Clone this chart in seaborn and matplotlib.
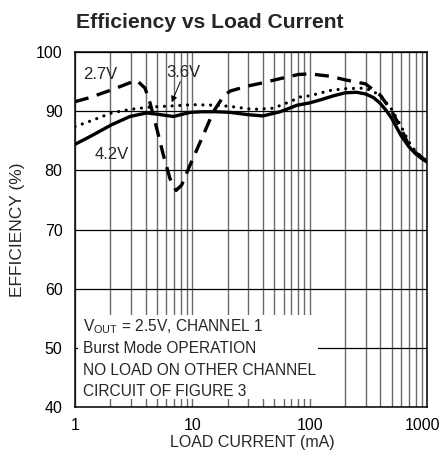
import matplotlib
matplotlib.use("Agg")
import matplotlib.pyplot as plt
import matplotlib.transforms as mtransforms
import seaborn as sns
from matplotlib.patches import Rectangle
from matplotlib.ticker import FixedLocator, NullFormatter

# values (load current in mA, efficiency in %)
x_42 = [1, 1.34, 2.05, 2.94, 4.08, 4.97, 6.9, 9.6, 12, 16, 21, 30, 40, 56, 78,
        100, 123, 160, 200, 250, 300, 350, 400, 450, 500, 600, 700, 800, 900, 1000]
y_42 = [84.4, 85.7, 87.7, 89.1, 89.7, 89.5, 89.1, 89.8, 89.9, 89.9, 89.8, 89.4, 89.2, 89.9, 91.0,
        91.4, 91.9, 92.6, 93.1, 93.2, 92.9, 92.3, 91.3, 90.1, 88.8, 85.9, 84.0, 82.8, 82.0, 81.4]

x_27 = [1, 1.34, 2.05, 2.85, 3.36, 3.95, 4.36, 4.97, 5.66, 6.45, 7.27, 8.1, 9.57, 11.8, 15.1,
        18.4, 21, 29, 40, 56, 80, 100, 150, 200, 300, 400, 500, 600, 700, 800, 1000]
y_27 = [91.6, 92.3, 93.6, 94.7, 95.2, 93.9, 91.4, 87.1, 82.6, 78.6, 76.6, 77.5, 80.9, 85.0, 89.9,
        92.5, 93.4, 94.2, 94.8, 95.5, 96.2, 96.3, 95.9, 95.3, 94.6, 92.7, 90.0, 87.1, 84.2, 83.0, 81.5]

x_36 = [1, 1.34, 2.05, 2.94, 4.4, 6.9, 10, 16, 21, 33, 49, 68, 83, 100,
        150, 200, 300, 400, 500, 600, 700, 800, 1000]
y_36 = [87.4, 88.3, 89.7, 90.3, 90.7, 90.9, 91.1, 91.0, 90.8, 90.3, 90.5, 91.6, 92.4, 92.6,
        93.5, 93.8, 93.9, 92.7, 90.3, 87.5, 84.8, 83.2, 81.5]

x_ticks = [1, 10, 100, 1000]
x_ticklabels = ["1", "10", "100", "1000"]
y_ticks = [40, 50, 60, 70, 80, 90, 100]

note_lines = [r"V$_{\mathregular{OUT}}$ = 2.5V, CHANNEL 1",
              "Burst Mode OPERATION",
              "NO LOAD ON OTHER CHANNEL",
              "CIRCUIT OF FIGURE 3"]

sns.set_theme(style="white")
plt.rcParams['font.family'] = ['Liberation Sans Narrow', 'Liberation Sans', 'DejaVu Sans']
plt.rcParams['mathtext.default'] = 'regular'

fig = plt.figure(figsize=(4.43, 4.59), dpi=100)
ax = fig.add_axes([75 / 443, 52 / 459, 352 / 443, 355 / 459])

# the three curves
sns.lineplot(x=x_42, y=y_42, ax=ax, color="black", lw=2.4, zorder=3)
sns.lineplot(x=x_27, y=y_27, ax=ax, color="black", lw=2.4, zorder=3,
             linestyle=(0, (4.2, 2.6)))
sns.lineplot(x=x_36, y=y_36, ax=ax, color="black", lw=2.3, zorder=3,
             linestyle=(0, (0.01, 2.4)), dash_capstyle="round")

ax.set_xscale("log")
ax.set_xlim(1, 1000)
ax.set_ylim(40, 100)
ax.xaxis.set_major_locator(FixedLocator(x_ticks))
ax.set_xticklabels(x_ticklabels)
ax.xaxis.set_minor_locator(FixedLocator([m * d for d in [1, 10, 100] for m in range(2, 10)]))
ax.xaxis.set_minor_formatter(NullFormatter())
ax.set_yticks(y_ticks)

ax.set_axisbelow(True)
ax.grid(which="both", axis="x", color="#6a6a6a", lw=1.0)
ax.grid(which="major", axis="y", color="black", lw=0.9)
ax.tick_params(which="both", direction="in", length=5, width=0.8, color="black",
               labelsize=11.5, colors="black")
ax.tick_params(axis="y", pad=9)
ax.tick_params(axis="x", pad=8)
for s in ax.spines.values():
    s.set_color("black")
    s.set_linewidth(1.1)

# keep "1000" inside the figure edge
last = ax.get_xticklabels()[-1]
last.set_transform(last.get_transform() + mtransforms.ScaledTranslation(-4 / 100, 0, fig.dpi_scale_trans))

# white box behind the conditions text
ax.add_patch(Rectangle((0.008, 0.022), 0.683, 0.238, transform=ax.transAxes,
                       facecolor="white", edgecolor="none", zorder=1.5))
for i, line in enumerate(note_lines):
    ax.text(0.022, 0.226 - i * 0.061, line, transform=ax.transAxes, fontsize=11.2,
            va="center", ha="left", zorder=4)

# curve labels
ax.text(1.63, 96.2, "2.7V", fontsize=12, ha="center", va="center")
ax.text(8.4, 96.6, "3.6V", fontsize=12, ha="center", va="center")
ax.text(2.05, 82.7, "4.2V", fontsize=12, ha="center", va="center")
ax.annotate("", xy=(6.67, 91.5), xytext=(7.9, 95.0),
            arrowprops=dict(arrowstyle="-|>", color="black", lw=0.7,
                            mutation_scale=9, shrinkA=0, shrinkB=0))

fig.text(210 / 443, 1 - 23 / 459, "Efficiency vs Load Current", fontsize=15.2,
         fontweight="bold", ha="center", va="center")
fig.text(18 / 443, 1 - 230 / 459, "EFFICIENCY (%)", fontsize=12.5, rotation=90,
         ha="center", va="center")
fig.text(252 / 443, 1 - 442 / 459, "LOAD CURRENT (mA)", fontsize=11.5,
         ha="center", va="center")

fig.savefig("out.png", dpi=100)
